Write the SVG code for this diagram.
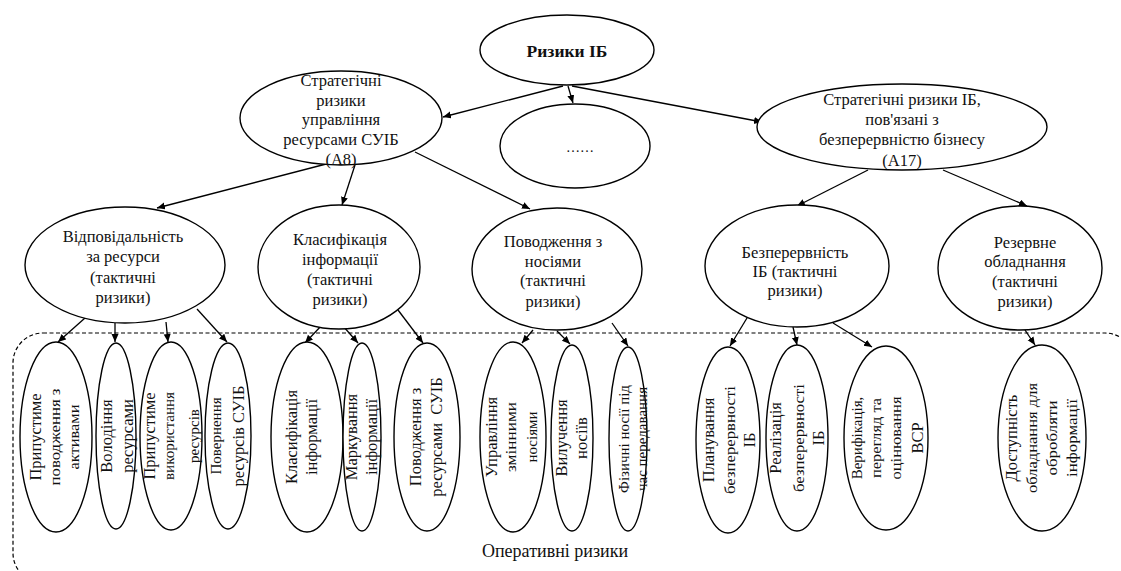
<svg xmlns="http://www.w3.org/2000/svg" width="1121" height="571" viewBox="0 0 1121 571">
<style>
  .n { fill: #fff; stroke: #000; stroke-width: 1.4; }
  .t { font-family: 'Liberation Serif', serif; fill: #111; text-anchor: middle; font-size: 16.5px; }
  .sm { font-size: 14px; }
  .c line { stroke: #000; stroke-width: 1.3; marker-end: url(#ah); }
  .frame { fill: none; stroke: #000; stroke-width: 1.2; stroke-dasharray: 4 2.5; }
</style>
<defs>
  <marker id="ah" markerUnits="userSpaceOnUse" markerWidth="9" markerHeight="8" refX="8" refY="3.5" orient="auto">
    <path d="M0,0 L8,3.5 L0,7 z" fill="#000"/>
  </marker>
</defs>
<rect width="1121" height="571" fill="#fff"/>
<rect class="frame" x="13" y="333" width="1122" height="250" rx="30"/>
<text class="t" x="555" y="557" style="font-size:18px">Оперативні ризики</text>

<g class="c" id="connectors">
  <line x1="563" y1="86" x2="443" y2="117"/>
  <line x1="568" y1="86" x2="573" y2="103"/>
  <line x1="572" y1="86" x2="762" y2="122"/>
  <line x1="330" y1="163" x2="157" y2="208"/>
  <line x1="355" y1="165" x2="342" y2="205"/>
  <line x1="415" y1="152" x2="530" y2="209"/>
  <line x1="868" y1="170" x2="797" y2="206"/>
  <line x1="943" y1="170" x2="1027" y2="206"/>
  <line x1="85" y1="318" x2="58" y2="342"/>
  <line x1="115" y1="323" x2="115" y2="342"/>
  <line x1="166" y1="322" x2="168" y2="342"/>
  <line x1="197" y1="309" x2="227" y2="342"/>
  <line x1="322" y1="325" x2="305" y2="343"/>
  <line x1="343" y1="326" x2="358" y2="343"/>
  <line x1="398" y1="310" x2="423" y2="343"/>
  <line x1="533" y1="330" x2="522" y2="343"/>
  <line x1="557" y1="331" x2="570" y2="344"/>
  <line x1="612" y1="323" x2="628" y2="346"/>
  <line x1="747" y1="318" x2="730" y2="346"/>
  <line x1="793" y1="327" x2="797" y2="345"/>
  <line x1="833" y1="323" x2="872" y2="347"/>
  <line x1="1025" y1="330" x2="1035" y2="345"/>
</g>

<g id="root">
  <ellipse class="n" cx="567" cy="50" rx="87" ry="35"/>
  <text class="t" x="567" y="57" style="font-size:17.5px;font-weight:bold">Ризики ІБ</text>
</g>
<g id="strat-a8">
  <ellipse class="n" cx="341" cy="118" rx="101" ry="47"/>
  <text class="t"><tspan x="341" y="86">Стратегічні</tspan><tspan x="341" y="106">ризики</tspan><tspan x="341" y="125">управління</tspan><tspan x="341" y="145">ресурсами СУІБ</tspan><tspan x="341" y="165">(А8)</tspan></text>
</g>
<g id="strat-mid">
  <ellipse class="n" cx="575" cy="146" rx="75" ry="42"/>
  <text class="t" x="580" y="152" style="font-size:14px">……</text>
</g>
<g id="strat-a17">
  <ellipse class="n" cx="902" cy="127" rx="145" ry="43"/>
  <text class="t"><tspan x="902" y="105">Стратегічні ризики ІБ,</tspan><tspan x="902" y="125">пов'язані з</tspan><tspan x="902" y="145">безперервністю бізнесу</tspan><tspan x="902" y="166">(А17)</tspan></text>
</g>

<g id="t-resp">
  <ellipse class="n" cx="125" cy="265" rx="100" ry="58"/>
  <text class="t"><tspan x="123" y="242">Відповідальність</tspan><tspan x="123" y="262">за ресурси</tspan><tspan x="123" y="283">(тактичні</tspan><tspan x="123" y="303">ризики)</tspan></text>
</g>
<g id="t-class">
  <ellipse class="n" cx="339" cy="267" rx="81" ry="62"/>
  <text class="t"><tspan x="340" y="245">Класифікація</tspan><tspan x="340" y="265">інформації</tspan><tspan x="340" y="285">(тактичні</tspan><tspan x="340" y="305">ризики)</tspan></text>
</g>
<g id="t-media">
  <ellipse class="n" cx="557" cy="269" rx="85" ry="61"/>
  <text class="t"><tspan x="553" y="247">Поводження з</tspan><tspan x="553" y="267">носіями</tspan><tspan x="553" y="286">(тактичні</tspan><tspan x="553" y="307">ризики)</tspan></text>
</g>
<g id="t-cont">
  <ellipse class="n" cx="797" cy="266" rx="92" ry="61"/>
  <text class="t"><tspan x="795" y="258">Безперервність</tspan><tspan x="795" y="277">ІБ (тактичні</tspan><tspan x="795" y="296">ризики)</tspan></text>
</g>
<g id="t-backup">
  <ellipse class="n" cx="1020" cy="268" rx="82" ry="62"/>
  <text class="t"><tspan x="1025" y="248">Резервне</tspan><tspan x="1025" y="267">обладнання</tspan><tspan x="1025" y="287">(тактичні</tspan><tspan x="1025" y="307">ризики)</tspan></text>
</g>

<g id="o1">
  <ellipse class="n" cx="56" cy="437" rx="36" ry="95"/>
  <text class="t" transform="translate(56,437) rotate(-90)"><tspan x="0" y="-15">Припустиме</tspan><tspan class="sm" x="0" y="4" textLength="97" lengthAdjust="spacingAndGlyphs">поводження з</tspan><tspan class="sm" x="0" y="23" textLength="65" lengthAdjust="spacingAndGlyphs">активами</tspan></text>
</g>
<g id="o2">
  <ellipse class="n" cx="116" cy="436" rx="20" ry="93"/>
  <text class="t" transform="translate(116,436) rotate(-90)"><tspan x="0" y="-4">Володіння</tspan><tspan x="0" y="17">ресурсами</tspan></text>
</g>
<g id="o3">
  <ellipse class="n" cx="171" cy="436" rx="31" ry="94"/>
  <text class="t" transform="translate(171,436) rotate(-90)"><tspan x="0" y="-16">Припустиме</tspan><tspan class="sm" x="0" y="3" textLength="88" lengthAdjust="spacingAndGlyphs">використання</tspan><tspan x="0" y="28" style="font-size:15px">ресурсів</tspan></text>
</g>
<g id="o4">
  <ellipse class="n" cx="228" cy="436" rx="23" ry="93"/>
  <text class="t" transform="translate(228,436) rotate(-90)"><tspan x="0" y="-7" style="font-size:15px">Повернення</tspan><tspan x="0" y="16">ресурсів СУІБ</tspan></text>
</g>
<g id="o5">
  <ellipse class="n" cx="307" cy="437" rx="36" ry="95"/>
  <text class="t" transform="translate(307,437) rotate(-90)"><tspan x="0" y="-10">Класифікація</tspan><tspan x="0" y="10">інформації</tspan></text>
</g>
<g id="o6">
  <ellipse class="n" cx="362" cy="437" rx="19" ry="94"/>
  <text class="t" transform="translate(362,437) rotate(-90)"><tspan x="0" y="-5">Маркування</tspan><tspan x="0" y="15">інформації</tspan></text>
</g>
<g id="o7">
  <ellipse class="n" cx="427" cy="437" rx="33" ry="94"/>
  <text class="t" transform="translate(427,437) rotate(-90)"><tspan x="0" y="-6">Поводження з</tspan><tspan x="0" y="15" xml:space="preserve">ресурсами  СУІБ</tspan></text>
</g>
<g id="o8">
  <ellipse class="n" cx="513" cy="437" rx="33" ry="95"/>
  <text class="t" transform="translate(513,437) rotate(-90)"><tspan x="0" y="-16">Управління</tspan><tspan class="sm" x="0" y="3" textLength="70" lengthAdjust="spacingAndGlyphs">змінними</tspan><tspan x="0" y="24" style="font-size:15px">носіями</tspan></text>
</g>
<g id="o9">
  <ellipse class="n" cx="572" cy="438" rx="21" ry="93"/>
  <text class="t" transform="translate(572,438) rotate(-90)"><tspan x="0" y="-5">Вилучення</tspan><tspan x="0" y="15">носіїв</tspan></text>
</g>
<g id="o10">
  <ellipse class="n" cx="628" cy="439" rx="19" ry="92"/>
  <text class="t" transform="translate(628,439) rotate(-90)" style="font-size:15px"><tspan x="0" y="1">Фізичні носії під</tspan><tspan x="0" y="19">час передавання</tspan></text>
</g>
<g id="o11">
  <ellipse class="n" cx="728" cy="440" rx="32" ry="93"/>
  <text class="t" transform="translate(728,440) rotate(-90)"><tspan x="0" y="-14">Планування</tspan><tspan class="sm" x="0" y="7" textLength="108" lengthAdjust="spacingAndGlyphs">безперервності</tspan><tspan x="0" y="27">ІБ</tspan></text>
</g>
<g id="o12">
  <ellipse class="n" cx="797" cy="438" rx="31" ry="93"/>
  <text class="t" transform="translate(797,438) rotate(-90)"><tspan x="0" y="-16">Реалізація</tspan><tspan class="sm" x="0" y="7" textLength="108" lengthAdjust="spacingAndGlyphs">безперервності</tspan><tspan x="0" y="27">ІБ</tspan></text>
</g>
<g id="o13">
  <ellipse class="n" cx="886" cy="438" rx="42" ry="92"/>
  <text class="t" transform="translate(886,438) rotate(-90)"><tspan x="0" y="-24" style="font-size:15px">Верифікація,</tspan><tspan class="sm" x="0" y="-5" textLength="80" lengthAdjust="spacingAndGlyphs">перегляд та</tspan><tspan class="sm" x="0" y="15" textLength="83" lengthAdjust="spacingAndGlyphs">оцінювання</tspan><tspan x="0" y="37">ВСР</tspan></text>
</g>
<g id="o14">
  <ellipse class="n" cx="1042" cy="438" rx="44" ry="93"/>
  <text class="t" transform="translate(1042,438) rotate(-90)"><tspan x="0" y="-25">Доступність</tspan><tspan class="sm" x="0" y="-5" textLength="110" lengthAdjust="spacingAndGlyphs">обладнання для</tspan><tspan class="sm" x="0" y="15" textLength="75" lengthAdjust="spacingAndGlyphs">обробляти</tspan><tspan class="sm" x="0" y="35" textLength="78" lengthAdjust="spacingAndGlyphs">інформації</tspan></text>
</g>
</svg>
